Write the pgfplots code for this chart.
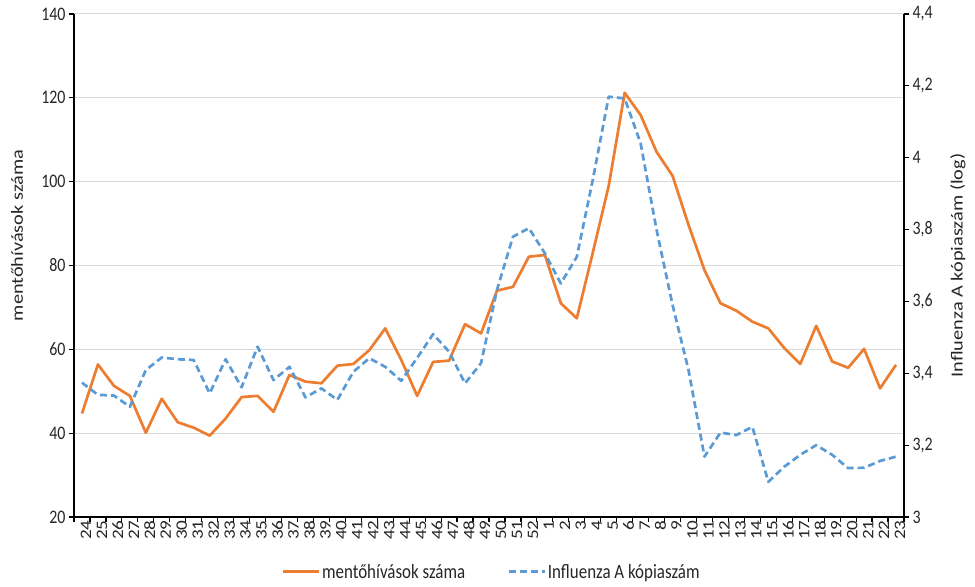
\documentclass[border=0pt]{standalone}
\usepackage{pgfplots}
\pgfplotsset{compat=1.18}
\usepackage{fontspec}
\setmainfont{Carlito}[FakeStretch=0.833]
\newfontfamily\rotfont{Carlito}[FakeStretch=1.2]
\definecolor{orng}{HTML}{ED7D31}
\definecolor{blu}{HTML}{5B9BD5}
\definecolor{grd}{HTML}{D9D9D9}
\pgfplotstableread{
idx ment infl
0 44.7 3.374
1 56.4 3.340
2 51.3 3.338
3 48.9 3.307
4 40.1 3.409
5 48.2 3.444
6 42.6 3.439
7 41.3 3.437
8 39.4 3.344
9 43.5 3.439
10 48.6 3.361
11 48.9 3.474
12 45.1 3.381
13 53.9 3.418
14 52.3 3.333
15 51.9 3.358
16 56.1 3.326
17 56.5 3.404
18 59.8 3.442
19 65.0 3.418
20 57.5 3.379
21 48.9 3.443
22 57.0 3.509
23 57.3 3.460
24 66.0 3.372
25 63.8 3.428
26 74.0 3.632
27 74.9 3.780
28 82.1 3.804
29 82.5 3.734
30 71.0 3.650
31 67.4 3.724
32 83.0 3.938
33 99.0 4.170
34 121.2 4.165
35 115.9 4.040
36 107.1 3.799
37 101.4 3.590
38 89.7 3.409
39 78.9 3.168
40 71.0 3.235
41 69.2 3.228
42 66.6 3.251
43 65.0 3.098
44 60.3 3.140
45 56.5 3.173
46 65.6 3.200
47 57.1 3.173
48 55.6 3.136
49 60.1 3.137
50 50.7 3.156
51 56.3 3.168
}\datatable
\begin{document}
\begin{tikzpicture}
\path[use as bounding box] (-74bp,-70bp) rectangle (901bp,517bp);
\pgfplotsset{
  common/.style={
    scale only axis, width=830bp, height=503bp,
    at={(0,0)}, anchor=south west,
    xmin=-0.5, xmax=51.5,
    tick align=outside,
    major tick length=5bp,
    /pgf/number format/assume math mode=true,
    ticklabel style={font=\fontsize{19.2}{22}\selectfont, text=black!85},
    axis line style={line width=1.2bp, black},
    every tick/.style={line width=1.2bp, black},
    label style={font=\rotfont\fontsize{17}{20}\selectfont, text=black!85},
  }
}
\begin{axis}[common,
  axis x line*=bottom, axis y line*=left,
  ymin=20, ymax=140, ytick={20,40,60,80,100,120,140},
  ymajorgrids, grid style={grd, line width=1bp},
  xtick={-0.5,0.5,...,51.5}, xticklabels={},
  extra x ticks={0,...,51},
  extra x tick labels={24,25,26,27,28,29,30,31,32,33,34,35,36,37,38,39,40,41,42,43,44,45,46,47,48,49,50,51,52,1,2,3,4,5,6,7,8,9,10,11,12,13,14,15,16,17,18,19,20,21,22,23},
  extra x tick style={major tick length=0bp, tick label style={font=\rotfont\fontsize{16}{19}\selectfont, rotate=90, anchor=east, yshift=-4bp}},
  ylabel={mentőhívások száma},
  ylabel style={at={(axis description cs:-0.0687,0.56)}, anchor=center},
]
\addplot[orng, line width=2.7bp, line join=round] table[x=idx, y=ment] {\datatable};
\node[font=\fontsize{21.6}{25}\selectfont, text=black!85] at (axis description cs:0.128,-0.109) {2023};
\node[font=\fontsize{21.6}{25}\selectfont, text=black!85] at (axis description cs:0.933,-0.109) {2024};
\end{axis}
\begin{axis}[common,
  axis x line=none, axis y line*=right,
  ymin=3, ymax=4.4, ytick={3,3.2,3.4,3.6,3.8,4,4.2,4.4},
  yticklabel style={/pgf/number format/use comma},
  ylabel={Influenza A kópiaszám (log)},
  ylabel style={at={(axis description cs:1.065,0.5)}, anchor=center},
  legend style={at={(axis description cs:0.503,-0.109)}, anchor=center, draw=none, fill=none,
    font=\fontsize{20.4}{24}\selectfont, text=black!85,
    legend columns=2, /tikz/every even column/.append style={column sep=40bp}},
  legend image code/.code={\draw[#1] (0bp,0bp) -- (36bp,0bp);},
]
\addlegendimage{orng, line width=2.7bp}
\addlegendentry{mentőhívások száma}
\addplot[blu, line width=2.7bp, dash pattern=on 7bp off 4bp, line join=round] table[x=idx, y=infl] {\datatable};
\addlegendentry{Influenza A kópiaszám}
\end{axis}
\end{tikzpicture}
\end{document}
